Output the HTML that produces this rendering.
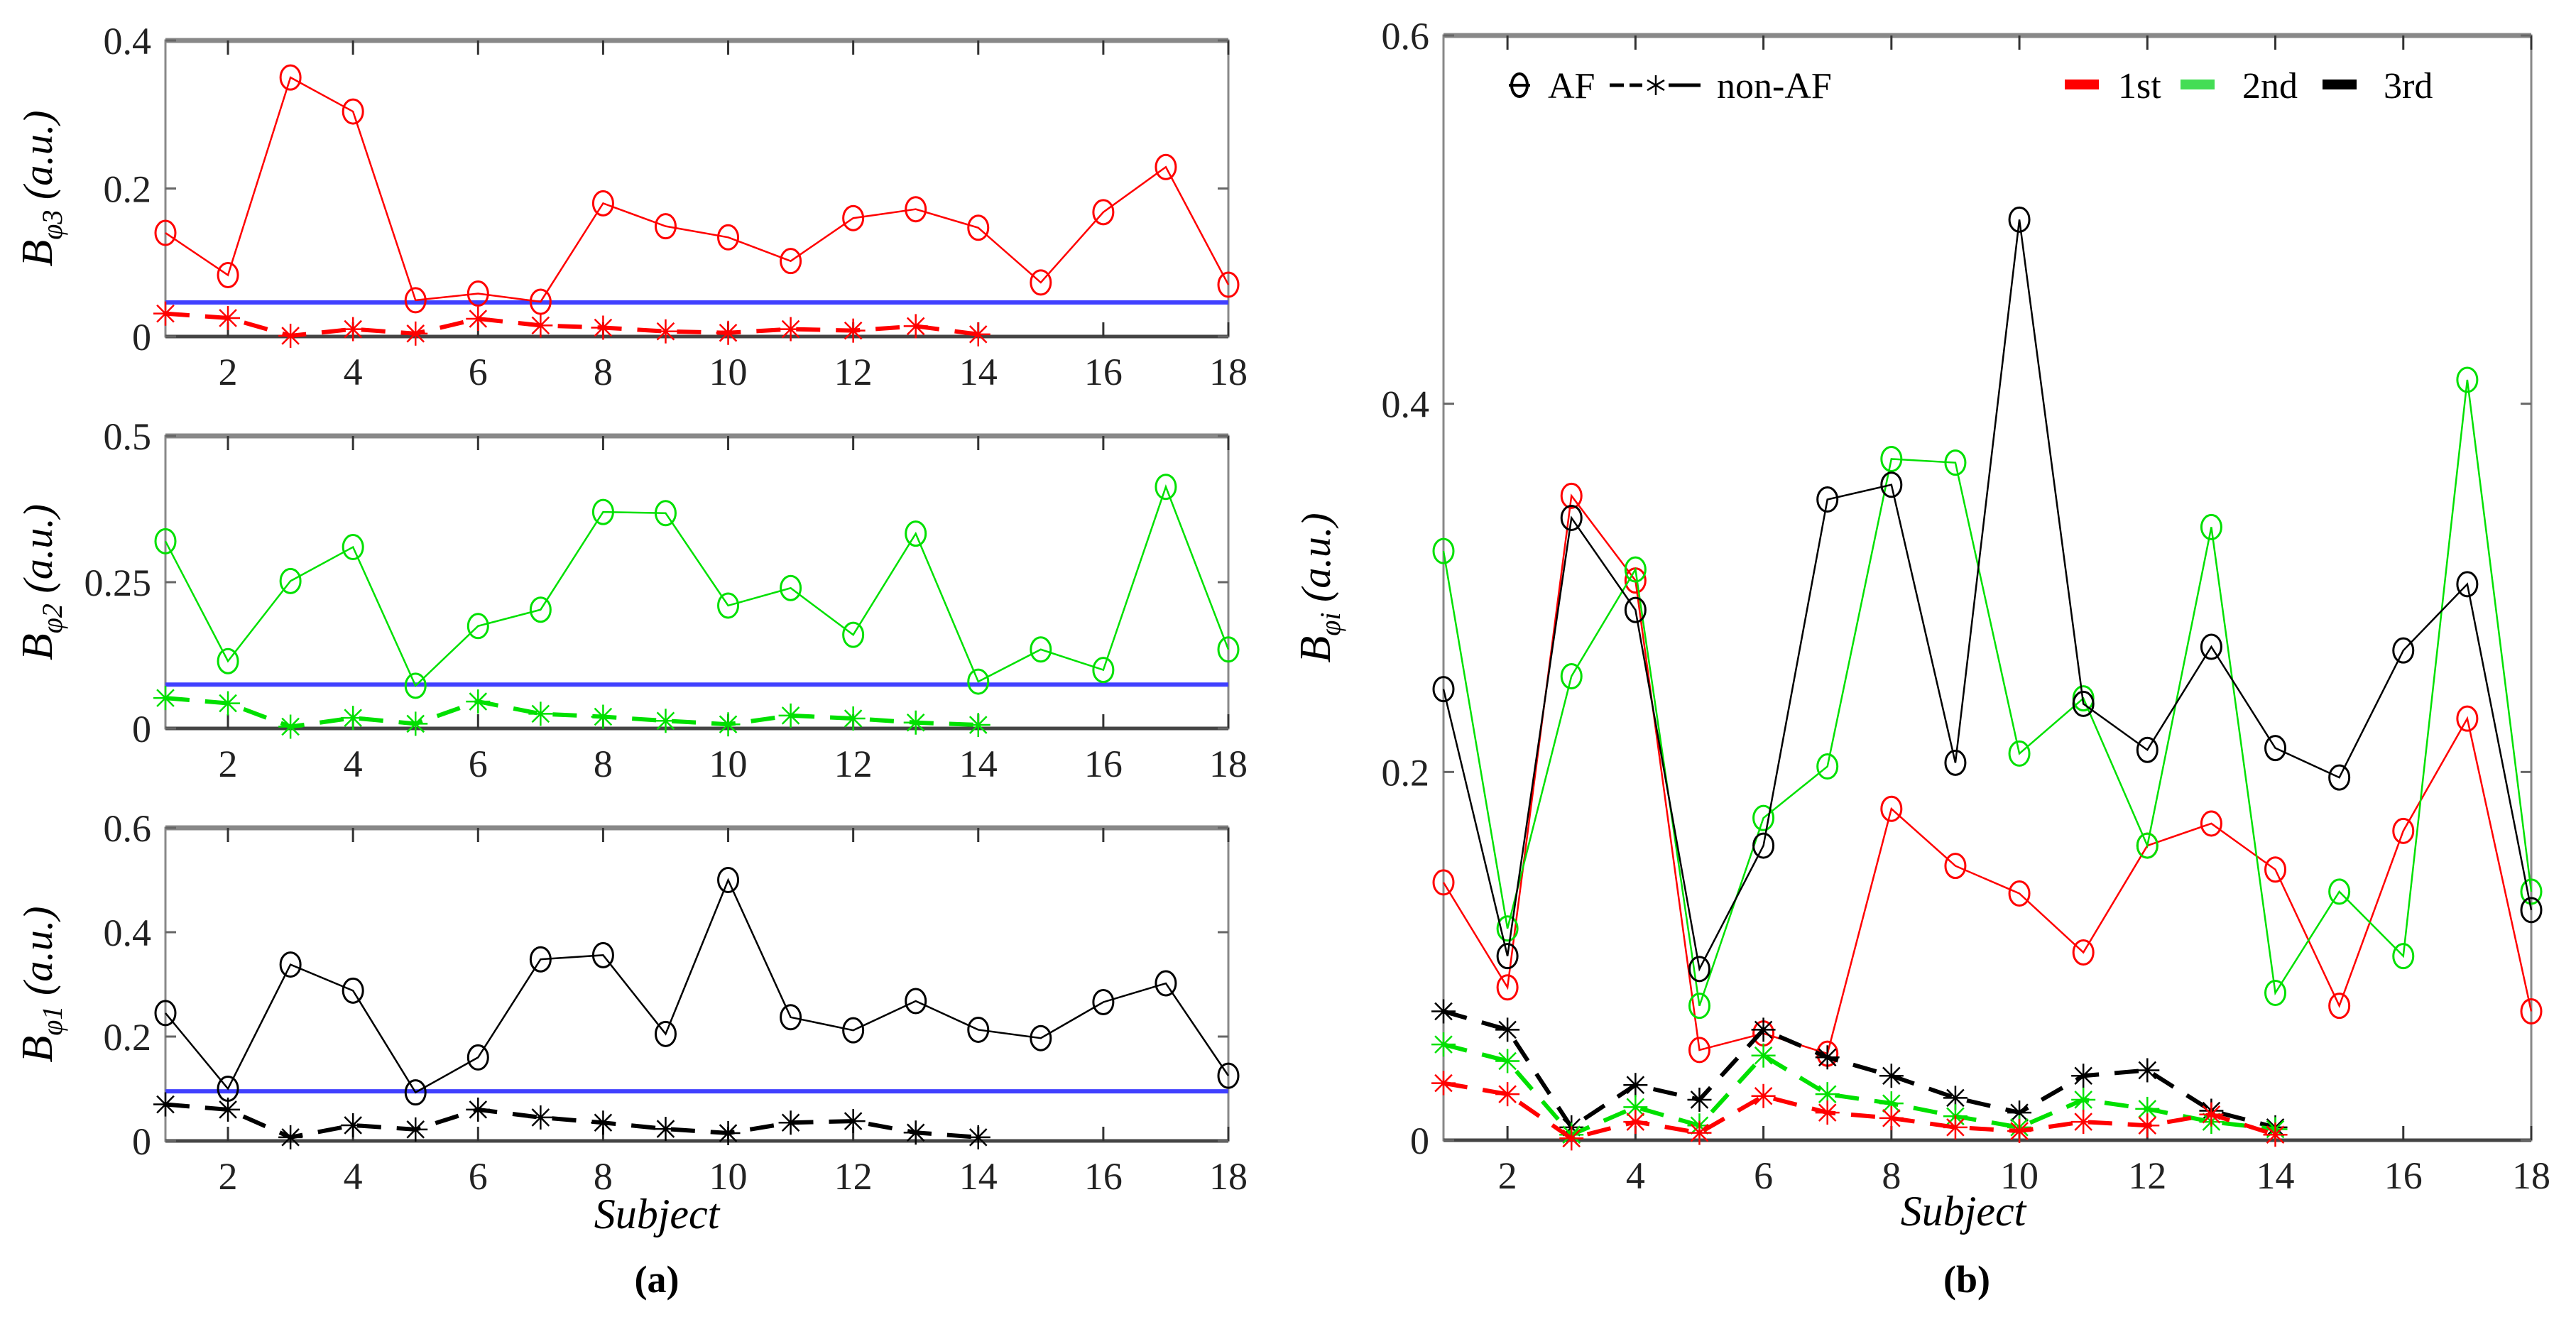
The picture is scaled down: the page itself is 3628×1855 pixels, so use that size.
<!DOCTYPE html>
<html><head><meta charset="utf-8"><style>
html,body{margin:0;padding:0;background:#fff;}
svg, svg text{font-family:"Liberation Serif","DejaVu Serif",serif;}
svg{display:block;}
</style></head><body>
<svg id="fig" width="3628" height="1855" viewBox="0 0 3628 1855" font-family="Liberation Serif, serif" xmlns="http://www.w3.org/2000/svg"></svg>
<script>
const subjectsAF = [1,2,3,4,5,6,7,8,9,10,11,12,13,14,15,16,17,18];
const subjectsNon = [1,2,3,4,5,6,7,8,9,10,11,12,13,14];
const xTicks = [2,4,6,8,10,12,14,16,18];
const redAF = [0.140,0.083,0.350,0.304,0.049,0.058,0.047,0.180,0.149,0.134,0.102,0.160,0.172,0.147,0.073,0.168,0.229,0.070];
const redNon = [0.031,0.025,0.001,0.010,0.004,0.024,0.015,0.012,0.007,0.005,0.010,0.008,0.014,0.003];
const greenAF = [0.320,0.115,0.252,0.310,0.073,0.175,0.203,0.370,0.368,0.210,0.240,0.160,0.333,0.080,0.135,0.100,0.413,0.135];
const greenNon = [0.052,0.043,0.003,0.018,0.008,0.046,0.025,0.020,0.013,0.007,0.022,0.017,0.010,0.006];
const blackAF = [0.245,0.100,0.338,0.288,0.093,0.160,0.348,0.356,0.205,0.500,0.237,0.212,0.268,0.213,0.197,0.266,0.302,0.125];
const blackNon = [0.070,0.060,0.007,0.030,0.022,0.060,0.045,0.035,0.023,0.015,0.035,0.038,0.016,0.007];
const thresholds = [0.046,0.075,0.095];
const ticks3 = [0,0.2,0.4];
const ticks2 = [0,0.25,0.5];
const ticks1 = [0,0.2,0.4,0.6];
const ticksB = [0,0.2,0.4,0.6];

const NS="http://www.w3.org/2000/svg";
const svg=document.getElementById('fig');
function mk(tag,attrs,parent){const e=document.createElementNS(NS,tag);for(const k in attrs)e.setAttribute(k,attrs[k]);(parent||svg).appendChild(e);return e;}
function txt(str,attrs,parent){attrs["font-family"]="Liberation Serif, serif";const e=mk('text',attrs,parent);e.textContent=str;return e;}

const RED='#ff0000',GREEN='#00e000',BLACK='#000000',BLUE='#4040ff';

function panel(name,x0,x1,yTop,yBot,ymax,yticks,ylabelSub){
  const g=mk('g',{});
  
  
  const xs=v=>x0+(v-1)*(x1-x0)/17;
  const ys=v=>yBot-v*(yBot-yTop)/ymax;
  const frame=mk('rect',{x:x0,y:yTop,width:x1-x0,height:yBot-yTop,fill:'none',stroke:'#888',"stroke-width":3},g);
  
  
  const top=mk('line',{x1:x0,x2:x1,y1:yTop,y2:yTop,stroke:'#888',"stroke-width":7},g);
  
  
  const bot=mk('line',{x1:x0,x2:x1,y1:yBot,y2:yBot,stroke:'#444',"stroke-width":5},g);
  
  
  xTicks.forEach(t=>{
    const X=xs(t);
    mk('line',{x1:X,x2:X,y1:yBot,y2:yBot-20,stroke:'#333',"stroke-width":3},g);
    mk('line',{x1:X,x2:X,y1:yTop,y2:yTop+20,stroke:'#333',"stroke-width":3},g);
    const l=txt(String(t),{x:X,y:yBot+68,"font-size":54,"text-anchor":"middle",fill:'#222'},g);
    
    
  });
  yticks.forEach(t=>{
    const Y=ys(t);
    mk('line',{x1:x0,x2:x0+15,y1:Y,y2:Y,stroke:'#666',"stroke-width":3},g);
    mk('line',{x1:x1,x2:x1-15,y1:Y,y2:Y,stroke:'#666',"stroke-width":3},g);
    const l=txt(String(t),{x:x0-20,y:Y+19,"font-size":54,"text-anchor":"end",fill:'#222'},g);
    
    
  });
  const cy=(yTop+yBot)/2;
  const yl=mk('text',{x:0,y:0,"font-family":"Liberation Serif, serif","font-size":58,"font-style":"italic","text-anchor":"middle",transform:`translate(${x0-160},${cy}) rotate(-90)`},g);
  
  
  const t1=mk('tspan',{"font-size":62},yl);t1.textContent='B';
  const t2=mk('tspan',{"font-size":40,dy:14},yl);t2.textContent=ylabelSub;
  const t3=mk('tspan',{dy:-14},yl);t3.textContent=' (a.u.)';
  return {g,xs,ys};
}

function series(p,xsArr,vals,color,dashed,marker,name){
  const pts=vals.map((v,i)=>[p.xs(xsArr[i]),p.ys(v)]);
  const pl=mk('polyline',{points:pts.map(a=>a.join(',')).join(' '),fill:'none',stroke:color,"stroke-width":dashed?6:2.5,"stroke-dasharray":dashed?'34 22':'none'},p.g);
  
  
  pts.forEach(([X,Y])=>{
    if(marker==='o'){
      const c=mk('ellipse',{cx:X,cy:Y,rx:14,ry:17,fill:'none',stroke:color,"stroke-width":3},p.g);
      
      
    } else {
      const s=mk('g',{stroke:color,"stroke-width":2.5},p.g);
      
      
      const r=17;
      mk('line',{x1:X-r,x2:X+r,y1:Y,y2:Y},s);
      mk('line',{x1:X,x2:X,y1:Y-r,y2:Y+r},s);
      mk('line',{x1:X-r*0.7,x2:X+r*0.7,y1:Y-r*0.7,y2:Y+r*0.7},s);
      mk('line',{x1:X-r*0.7,x2:X+r*0.7,y1:Y+r*0.7,y2:Y-r*0.7},s);
    }
  });
}
function threshold(p,v,x0,x1){
  const l=mk('line',{x1:x0,x2:x1,y1:p.ys(v),y2:p.ys(v),stroke:BLUE,"stroke-width":6},p.g);
  
  
}

const AX0=233,AX1=1730;
const p3=panel('panel-a-phi3',AX0,AX1,57,474,0.4,ticks3,'φ3');
threshold(p3,thresholds[0],AX0,AX1);
series(p3,subjectsAF,redAF,RED,false,'o','phi3-af');
series(p3,subjectsNon,redNon,RED,true,'*','phi3-nonaf');

const p2=panel('panel-a-phi2',AX0,AX1,614,1026,0.5,ticks2,'φ2');
threshold(p2,thresholds[1],AX0,AX1);
series(p2,subjectsAF,greenAF,GREEN,false,'o','phi2-af');
series(p2,subjectsNon,greenNon,GREEN,true,'*','phi2-nonaf');

const p1=panel('panel-a-phi1',AX0,AX1,1166,1607,0.6,ticks1,'φ1');
threshold(p1,thresholds[2],AX0,AX1);
series(p1,subjectsAF,blackAF,BLACK,false,'o','phi1-af');
series(p1,subjectsNon,blackNon,BLACK,true,'*','phi1-nonaf');

const BX0=2033,BX1=3565;
const pb=panel('panel-b',BX0,BX1,50,1606,0.6,ticksB,'φi');
series(pb,subjectsAF,redAF,RED,false,'o','b-1st-af');
series(pb,subjectsAF,greenAF,GREEN,false,'o','b-2nd-af');
series(pb,subjectsAF,blackAF,BLACK,false,'o','b-3rd-af');
series(pb,subjectsNon,blackNon,BLACK,true,'*','b-3rd-nonaf');
series(pb,subjectsNon,greenNon,GREEN,true,'*','b-2nd-nonaf');
series(pb,subjectsNon,redNon,RED,true,'*','b-1st-nonaf');

// legend
const lg=mk('g',{});


mk('ellipse',{cx:2140,cy:120,rx:11,ry:16,fill:'none',stroke:'#000',"stroke-width":4},lg);
mk('line',{x1:2125,x2:2155,y1:120,y2:120,stroke:'#000',"stroke-width":4},lg);
const la=txt('AF',{x:2180,y:138,"font-size":52},lg);


mk('line',{x1:2267,x2:2313,y1:120,y2:120,stroke:'#000',"stroke-width":5,"stroke-dasharray":'20 8'},lg);
const st=mk('g',{stroke:'#000',"stroke-width":2.5},lg);
mk('line',{x1:2332,x2:2332,y1:106,y2:134},st);mk('line',{x1:2320,x2:2344,y1:113,y2:127},st);mk('line',{x1:2320,x2:2344,y1:127,y2:113},st);
mk('line',{x1:2350,x2:2395,y1:120,y2:120,stroke:'#000',"stroke-width":5},lg);
const ln=txt('non-AF',{x:2418,y:138,"font-size":52},lg);


[[2908,RED,'1st',2983],[3071,'#44dd55','2nd',3158],[3271,'#000','3rd',3357]].forEach(([sx,c,t,tx])=>{
  mk('rect',{x:sx,y:112,width:48,height:14,fill:c},lg);
  const e=txt(t,{x:tx,y:138,"font-size":52},lg);
  
  
});

const sa=txt('Subject',{x:925,y:1730,"font-size":60,"font-style":"italic","text-anchor":"middle"});


const sb=txt('Subject',{x:2765,y:1726,"font-size":60,"font-style":"italic","text-anchor":"middle"});


const ca=txt('(a)',{x:925,y:1820,"font-size":54,"font-weight":"bold","text-anchor":"middle"});


const cb=txt('(b)',{x:2770,y:1820,"font-size":54,"font-weight":"bold","text-anchor":"middle"});


</script>
</body></html>
